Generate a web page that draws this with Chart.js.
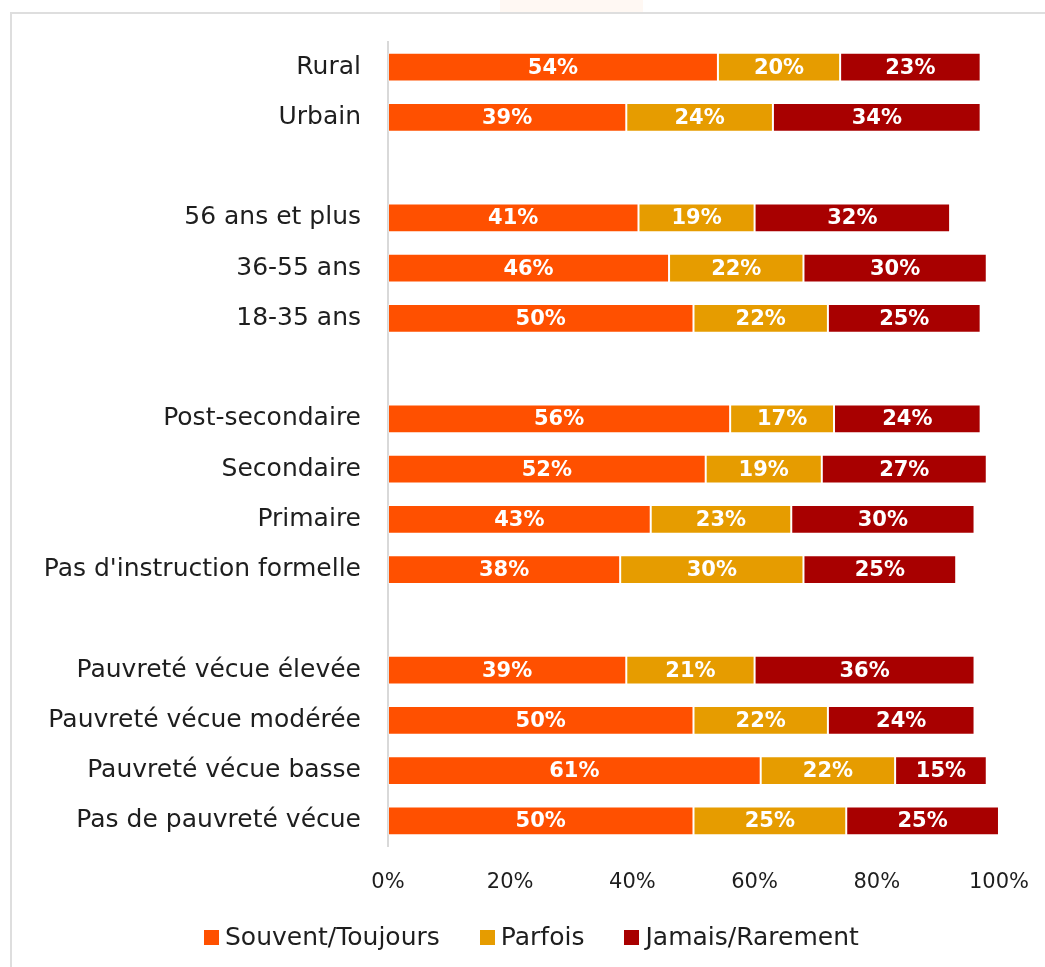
<!DOCTYPE html>
<html lang="fr">
<head>
<meta charset="utf-8">
<title>Fréquence par groupe</title>
<script src="https://cdn.jsdelivr.net/npm/chart.js@4/dist/chart.umd.min.js"></script>
<style>
  html, body { margin: 0; padding: 0; background: #fff; overflow: hidden; }
  #frame {
    position: absolute; left: 10px; top: 12px; width: 1100px; height: 1000px;
    border-left: 2px solid #dedede; border-top: 2px solid #dedede;
  }
  #tab {
    position: absolute; left: 500px; top: 0; width: 143px; height: 12px; background: #fff8f3;
  }
  #wrap { position: absolute; left: 0; top: 0; width: 1045px; height: 967px; }
  #legend {
    position: absolute; left: 204px; top: 923px; height: 28px;
    display: flex; align-items: center; gap: 40px;
    font: 25px 'Century Gothic', 'DejaVu Sans', sans-serif; color: #1e1e1e; line-height: 28px;
    white-space: nowrap;
  }
  #legend .item { display: flex; align-items: center; }
  #legend .box { width: 15px; height: 15px; margin-right: 6px; }
</style>
</head>
<body>
<div id="tab"></div>
<div id="frame"></div>
<div id="wrap"><canvas id="chart"></canvas></div>
<div id="legend"></div>
<script>
// groupes (les libellés vides séparent les blocs)
const categories = [
  'Rural', 'Urbain', '',
  '56 ans et plus', '36-55 ans', '18-35 ans', '',
  'Post-secondaire', 'Secondaire', 'Primaire', "Pas d'instruction formelle", '',
  'Pauvreté vécue élevée', 'Pauvreté vécue modérée', 'Pauvreté vécue basse', 'Pas de pauvreté vécue'
];
const souvent = [54, 39, null, 41, 46, 50, null, 56, 52, 43, 38, null, 39, 50, 61, 50];
const parfois = [20, 24, null, 19, 22, 22, null, 17, 19, 23, 30, null, 21, 22, 22, 25];
const jamais  = [23, 34, null, 32, 30, 25, null, 24, 27, 30, 25, null, 36, 24, 15, 25];
const xTicks  = [0, 20, 40, 60, 80, 100];

const FONT = "'Century Gothic', 'DejaVu Sans', sans-serif";
const INK = '#1e1e1e';

// étiquettes blanches au centre de chaque segment
const barLabels = {
  id: 'barLabels',
  afterDatasetsDraw(chart) {
    const ctx = chart.ctx;
    ctx.save();
    ctx.fillStyle = '#fff';
    ctx.font = `bold 21px ${FONT}`;
    ctx.textAlign = 'center';
    ctx.textBaseline = 'middle';
    chart.data.datasets.forEach((ds, i) => {
      chart.getDatasetMeta(i).data.forEach((bar, j) => {
        const v = ds.data[j];
        if (v == null) return;
        const { x, y, base } = bar.getProps(['x', 'y', 'base'], true);
        ctx.fillText(v + '%', (x + base) / 2, y + 1);
      });
    });
    ctx.restore();
  }
};

const mkSet = (label, data, color) => ({
  label, data,
  backgroundColor: color,
  borderColor: 'rgba(255,255,255,0.3)',
  borderWidth: 1,
  borderSkipped: false,
  barPercentage: 0.57,
  categoryPercentage: 1
});

const chart = new Chart(document.getElementById('chart'), {
  type: 'bar',
  data: {
    labels: categories,
    datasets: [
      mkSet('Souvent/Toujours', souvent, '#ff5000'),
      mkSet('Parfois', parfois, '#e69c00'),
      mkSet('Jamais/Rarement', jamais, '#a80000')
    ]
  },
  options: {
    indexAxis: 'y',
    responsive: true,
    maintainAspectRatio: false,
    animation: false,
    layout: { padding: { left: 0, right: 43, top: 42, bottom: 51 } },
    plugins: {
      legend: { display: false },
      tooltip: { enabled: false }
    },
    scales: {
      x: {
        stacked: true, min: 0, max: 100,
        afterBuildTicks: s => { s.ticks = xTicks.map(v => ({ value: v })); },
        afterFit: s => { s.height = 70; },
        grid: { display: false },
        border: { display: false },
        ticks: {
          color: INK, font: { family: FONT, size: 21 }, padding: 16,
          callback: v => v + '%'
        }
      },
      y: {
        stacked: true,
        afterFit: s => { s.width = 388; },
        grid: { display: false },
        border: { display: true, color: '#d9d9d9', width: 2 },
        ticks: { color: INK, font: { family: FONT, size: 25 }, padding: 19, autoSkip: false }
      }
    }
  },
  plugins: [barLabels]
});

// légende en HTML sous le graphique
const legendEl = document.getElementById('legend');
chart.data.datasets.forEach(ds => {
  const item = document.createElement('span');
  item.className = 'item';
  const box = document.createElement('span');
  box.className = 'box';
  box.style.background = ds.backgroundColor;
  item.appendChild(box);
  item.appendChild(document.createTextNode(ds.label));
  legendEl.appendChild(item);
});
</script>
</body>
</html>
